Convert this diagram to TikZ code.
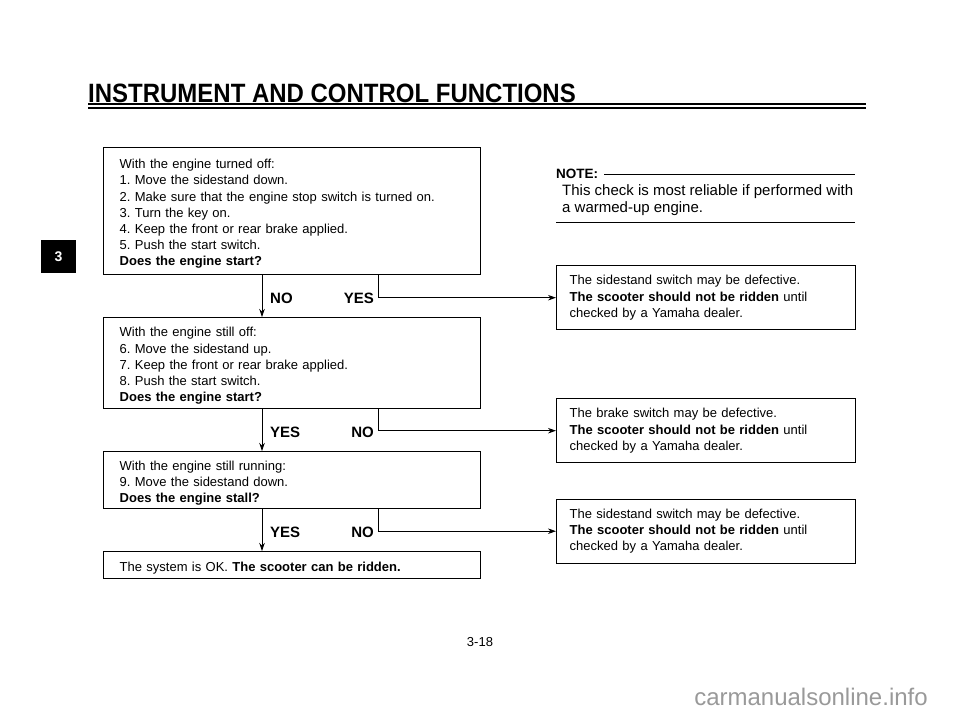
\documentclass[tikz,border=0pt]{standalone}
\usepackage{fontspec}
\setmainfont{Liberation Sans}
\usetikzlibrary{arrows.meta}
\newcommand\tsr{\rule{0pt}{15pt}}
\begin{document}
\frenchspacing
\begin{tikzpicture}[x=1pt,y=-1pt,
  box/.style={draw, line width=1.4pt, anchor=north west, inner xsep=16pt, inner ysep=0pt,
    align=left, text width=345pt, font=\fontsize{13}{16.2}\selectfont},
  rbox/.style={draw, line width=1.4pt, anchor=north west, inner xsep=13pt, inner ysep=0pt,
    align=left, text width=273pt, minimum height=64pt, font=\fontsize{13}{16.2}\selectfont},
  arr/.style={line width=0.8pt, -{Stealth[length=8pt,width=5.5pt]}},
  lbl/.style={font=\fontsize{15}{16}\selectfont\bfseries, inner sep=0pt}]
\useasboundingbox (0,0) rectangle (960,718);
% header
\node[anchor=base west, inner sep=0pt] (title) at (88,102)
  {\scalebox{0.905}[1]{\fontsize{26.5}{30}\selectfont\bfseries INSTRUMENT AND CONTROL FUNCTIONS}};
\draw[line width=1.2pt] (88,104) -- (866,104);
\draw[line width=2pt] (88,107.5) -- (866,107.5);
% tab
\fill (41,240) rectangle (76,273);
\node[text=white, font=\fontsize{14}{16}\selectfont\bfseries] (tab) at (58.5,256.5) {3};
% left boxes
\node[box, minimum height=127pt] (b1) at (103,147) {\tsr With the engine turned off:\\
1. Move the sidestand down.\\
2. Make sure that the engine stop switch is turned on.\\
3. Turn the key on.\\
4. Keep the front or rear brake applied.\\
5. Push the start switch.\\
\textbf{Does the engine start?}};
\node[box, minimum height=91pt] (b2) at (103,317) {\tsr With the engine still off:\\
6. Move the sidestand up.\\
7. Keep the front or rear brake applied.\\
8. Push the start switch.\\
\textbf{Does the engine start?}};
\node[box, minimum height=57pt] (b3) at (103,451) {\tsr With the engine still running:\\
9. Move the sidestand down.\\
\textbf{Does the engine stall?}};
\node[box, minimum height=27pt] (b4) at (103,551) {\tsr The system is OK. \textbf{The scooter can be ridden.}};
% right boxes
\node[rbox] (r1) at (556,265) {The sidestand switch may be defective.\\
\textbf{The scooter should not be ridden} until\\
checked by a Yamaha dealer.};
\node[rbox] (r2) at (556,398) {The brake switch may be defective.\\
\textbf{The scooter should not be ridden} until\\
checked by a Yamaha dealer.};
\node[rbox] (r3) at (556,498.5) {The sidestand switch may be defective.\\
\textbf{The scooter should not be ridden} until\\
checked by a Yamaha dealer.};
% note
\node[anchor=base west, inner sep=0pt, font=\fontsize{13.5}{16}\selectfont\bfseries] (note) at (556,178.5) {NOTE:};
\coordinate (ns) at (604,174.5);
\coordinate (ne) at (855,174.5);
\draw[line width=0.8pt] (ns) -- (ne);
\node[anchor=north west, inner sep=0pt, align=left, font=\fontsize{15}{17}\selectfont] (notetext) at (562,184.5)
  {This check is most reliable if performed with\\a warmed-up engine.};
\coordinate (nl) at (556,222);
\coordinate (nr) at (855,222);
\draw[line width=0.8pt] (nl) -- (nr);
% connectors
\coordinate (cx) at (262,0);
\coordinate (bx) at (378,0);
\draw[arr] (b1.south -| cx) -- (b2.north -| cx);
\draw[arr] (b2.south -| cx) -- (b3.north -| cx);
\draw[arr] (b3.south -| cx) -- (b4.north -| cx);
\draw[arr] (b1.south -| bx) |- (r1.west);
\draw[arr] (b2.south -| bx) |- (r2.west);
\draw[arr] (b3.south -| bx) |- (r3.west);
% labels
\node[lbl, anchor=west] (n1) at (270,298) {NO};
\node[lbl, anchor=east] (y1) at (374,298) {YES};
\node[lbl, anchor=west] (y2) at (270,432) {YES};
\node[lbl, anchor=east] (n2) at (374,432) {NO};
\node[lbl, anchor=west] (y3) at (270,532) {YES};
\node[lbl, anchor=east] (n3) at (374,532) {NO};
% footer
\node[font=\fontsize{13}{15}\selectfont] (page) at (480,642) {3-18};
\node[text=black!40, font=\fontsize{24}{28}\selectfont] (wm) at (811,697) {carmanualsonline.info};
\end{tikzpicture}
\end{document}
